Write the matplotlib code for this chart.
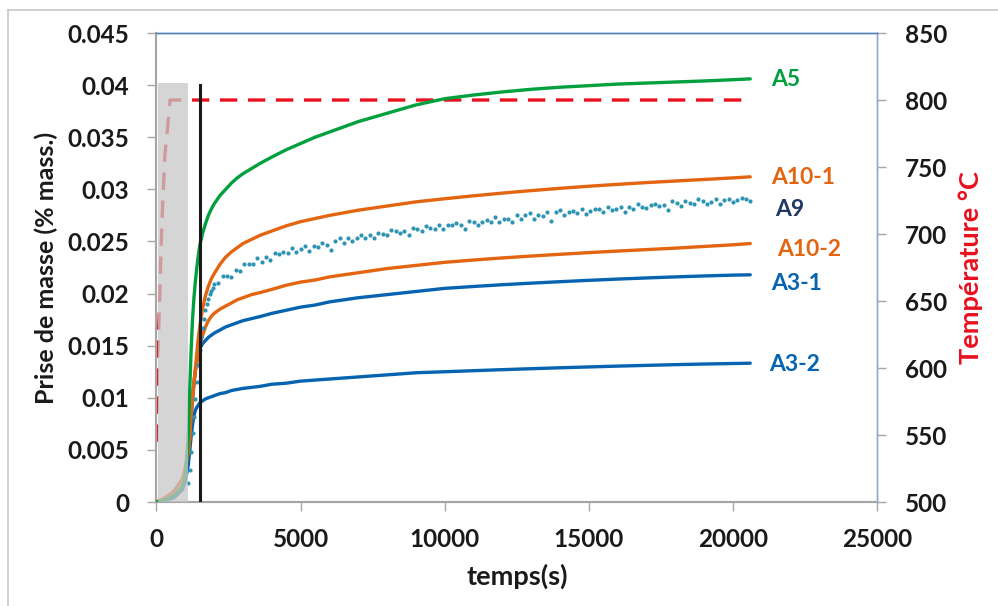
import matplotlib
matplotlib.use("Agg")
import matplotlib.pyplot as plt
from matplotlib.ticker import FuncFormatter, MultipleLocator
from matplotlib.lines import Line2D

plt.rcParams['font.family'] = ['Lato', 'DejaVu Sans']

# ---------------- data ----------------
t_curves = [0, 300, 600, 900, 1000, 1100, 1150, 1200, 1250, 1300, 1350, 1400, 1450, 1500,
            1600, 1700, 1800, 1900, 2000, 2200, 2400, 2600, 2800, 3000, 3300, 3600, 4000,
            4500, 5000, 5500, 6000, 7000, 8000, 9000, 10000, 11000, 12000, 13000, 14000,
            15000, 16000, 17000, 18000, 19000, 20000, 20600]
a5 = [0, 0.0002, 0.0006, 0.0014, 0.0025, 0.0062, 0.0105, 0.0145, 0.0175, 0.0196, 0.0212,
      0.0225, 0.0236, 0.0246, 0.0258, 0.0267, 0.0275, 0.0281, 0.0286, 0.0294, 0.0300,
      0.0306, 0.0311, 0.0315, 0.0320, 0.0325, 0.0331, 0.0338, 0.0344, 0.0350, 0.0355,
      0.0365, 0.0373, 0.0381, 0.0387, 0.03905, 0.03935, 0.0396, 0.0398, 0.03995, 0.0401,
      0.0402, 0.0403, 0.0404, 0.04052, 0.0406]
a10_1 = [0, 0.0004, 0.0010, 0.0022, 0.0033, 0.0048, 0.0060, 0.0085, 0.0100, 0.0115, 0.0129,
         0.0143, 0.0157, 0.0168, 0.0186, 0.0198, 0.0207, 0.0214, 0.0219, 0.0228, 0.0235,
         0.0240, 0.0244, 0.0248, 0.0252, 0.0256, 0.0260, 0.0265, 0.0269, 0.0272, 0.0275,
         0.0280, 0.0284, 0.0288, 0.0291, 0.02938, 0.02964, 0.02988, 0.0301, 0.0303,
         0.03048, 0.03065, 0.0308, 0.03095, 0.0311, 0.0312]
a10_2 = [0, 0.0004, 0.0010, 0.0022, 0.0033, 0.0048, 0.0060, 0.0085, 0.0100, 0.0115, 0.0126,
         0.0135, 0.0143, 0.0150, 0.0160, 0.0168, 0.0174, 0.0178, 0.0181, 0.0185, 0.0188,
         0.0191, 0.0194, 0.0196, 0.0199, 0.0201, 0.0204, 0.0208, 0.0211, 0.0213, 0.0216,
         0.0220, 0.0224, 0.0227, 0.0230, 0.02322, 0.02342, 0.0236, 0.02377, 0.02393,
         0.02408, 0.02422, 0.02436, 0.02452, 0.02468, 0.0248]
a3_1 = [0, 0.0002, 0.0005, 0.0015, 0.0025, 0.0042, 0.0060, 0.0080, 0.0098, 0.0113, 0.0126,
        0.0135, 0.0142, 0.0147, 0.0152, 0.0155, 0.0158, 0.0160, 0.0162, 0.0165, 0.0168,
        0.0170, 0.0172, 0.0174, 0.0176, 0.0178, 0.0181, 0.0184, 0.0187, 0.0189, 0.0192,
        0.0196, 0.0199, 0.0202, 0.0205, 0.02068, 0.02085, 0.0210, 0.02114, 0.02127,
        0.02139, 0.0215, 0.0216, 0.02169, 0.02177, 0.0218]
a3_2 = [0, 0.0002, 0.0004, 0.0012, 0.0020, 0.0035, 0.0048, 0.0062, 0.0074, 0.0083, 0.0088,
        0.0091, 0.0093, 0.0095, 0.0097, 0.0099, 0.0100, 0.0101, 0.0102, 0.0104, 0.0105,
        0.0107, 0.0108, 0.0109, 0.0110, 0.0111, 0.0113, 0.0114, 0.0116, 0.0117, 0.0118,
        0.0120, 0.0122, 0.0124, 0.0125, 0.0126, 0.0127, 0.01279, 0.01288, 0.01296,
        0.01304, 0.01311, 0.01318, 0.01324, 0.01329, 0.01332]

a9_t_early = [1100, 1150, 1200, 1250, 1300, 1350, 1400, 1450, 1500, 1550, 1600, 1650,
              1700, 1750, 1800, 1850, 1900, 1950]
a9_early = [0.0018, 0.0031, 0.0048, 0.0066, 0.0082, 0.0099, 0.0115, 0.0131, 0.0146, 0.0158,
            0.0167, 0.0176, 0.0184, 0.0190, 0.0195, 0.0200, 0.0202, 0.0205]
a9_t_late = list(range(2000, 20601, 150))
a9_late = [0.0209, 0.0210, 0.0217, 0.0217, 0.0216, 0.0223, 0.0222, 0.0228, 0.0228, 0.0228,
           0.0234, 0.0230, 0.0235, 0.0232, 0.0239, 0.0238, 0.0240, 0.0239, 0.0244, 0.0240,
           0.0243, 0.0246, 0.0241, 0.0246, 0.0245, 0.0249, 0.0247, 0.0242, 0.0250, 0.0253,
           0.0249, 0.0253, 0.0250, 0.0253, 0.0256, 0.0253, 0.0256, 0.0253, 0.0258, 0.0257,
           0.0256, 0.0261, 0.0260, 0.0258, 0.0260, 0.0256, 0.0263, 0.0262, 0.0260, 0.0265,
           0.0263, 0.0262, 0.0266, 0.0262, 0.0266, 0.0266, 0.0268, 0.0266, 0.0262, 0.0270,
           0.0269, 0.0266, 0.0269, 0.0271, 0.0269, 0.0273, 0.0269, 0.0272, 0.0272, 0.0269,
           0.0275, 0.0272, 0.0275, 0.0277, 0.0272, 0.0275, 0.0274, 0.0278, 0.0270, 0.0278,
           0.0280, 0.0275, 0.0278, 0.0279, 0.0277, 0.0281, 0.0276, 0.0279, 0.0281, 0.0281,
           0.0278, 0.0283, 0.0280, 0.0281, 0.0283, 0.0278, 0.0283, 0.0281, 0.0286, 0.0283,
           0.0282, 0.0285, 0.0286, 0.0284, 0.0285, 0.0280, 0.0289, 0.0287, 0.0284, 0.0289,
           0.0287, 0.0286, 0.0291, 0.0289, 0.0286, 0.0288, 0.0291, 0.0286, 0.0290, 0.0291,
           0.0288, 0.0290, 0.0292, 0.0291, 0.0289]

temp_t = [0, 30, 100, 150, 215, 295, 410, 470, 20300]
temp_c = [545, 604, 643, 683, 723, 760, 785, 800, 800]

grey_zone_t = [50, 1100]
grey_zone_top = 0.0402
marker_t = 1520
marker_top = 0.0400

labels = ['A5', 'A10-1', 'A9', 'A10-2', 'A3-1', 'A3-2']
label_y = [0.0405, 0.0311, 0.0281, 0.0242, 0.0210, 0.0132]
label_t = [21340, 21340, 21470, 21540, 21340, 21260]

# ---------------- style ----------------
GREEN = '#00a03e'
ORANGE = '#e3650f'
BLUE = '#0563b0'
TEAL = '#2d94b4'
NAVY = '#1f3864'
RED = '#e8101e'
TXT = '#1a1a1a'
label_colors = [GREEN, ORANGE, NAVY, ORANGE, BLUE, BLUE]

fig = plt.figure(figsize=(9.98, 6.06), dpi=100)
ax = fig.add_axes([0.1568, 0.1716, 0.7220, 0.7739])
ax2 = ax.twinx()

lw = 2.4
for ys, c in [(a3_2, BLUE), (a3_1, BLUE), (a10_2, ORANGE), (a10_1, ORANGE), (a5, GREEN)]:
    ax.plot(t_curves, ys, color=c, lw=lw, zorder=3, solid_joinstyle='round',
            solid_capstyle='round')
ax.plot(a9_t_early + a9_t_late, a9_early + a9_late, linestyle='none', marker='o',
        markersize=3.0, markeredgewidth=0, color=TEAL, zorder=3)

# grey zone (semi transparent, over everything before)
ax.fill_between(grey_zone_t, 0, grey_zone_top, color='#c8c8c8', alpha=0.75,
                linewidth=0, zorder=4)
ax.plot([marker_t, marker_t], [0, marker_top], color=TXT, lw=2.2, zorder=5)

ax.set_xlim(0, 25000)
ax.set_ylim(0, 0.045)
ax.xaxis.set_major_locator(MultipleLocator(5000))
ax.yaxis.set_major_locator(MultipleLocator(0.005))


def yfmt(v, pos):
    return f"{v:.3f}".rstrip('0').rstrip('.')


ax.yaxis.set_major_formatter(FuncFormatter(yfmt))

ax2.set_ylim(500, 850)
ax2.yaxis.set_major_locator(MultipleLocator(50))
ax2.plot(temp_t, temp_c, color=RED, lw=2.4, dashes=(5.2, 3.2), zorder=2)
ax.set_zorder(ax2.get_zorder() + 1)
ax.patch.set_visible(False)

TICK_FS = 17.5
for lab in ax.get_xticklabels() + ax.get_yticklabels() + ax2.get_yticklabels():
    lab.set_fontsize(TICK_FS)
    lab.set_fontweight('bold')
    lab.set_color(TXT)

ax.tick_params(axis='both', direction='out', length=6.5, width=1, color='#a6a6a6')
ax.tick_params(axis='y', pad=13)
ax.tick_params(axis='x', pad=12)
ax2.tick_params(axis='y', direction='out', length=6.5, width=1, color='#a6a6a6', pad=13.5)

for a in (ax, ax2):
    a.spines['left'].set_color('#a6a6a6')
    a.spines['bottom'].set_color('#a6a6a6')
    a.spines['left'].set_linewidth(1.5)
    a.spines['bottom'].set_linewidth(1.5)
    a.spines['top'].set_color('#4f81bd')
    a.spines['top'].set_linewidth(1.0)
    a.spines['right'].set_color('#8ea9cc')
    a.spines['right'].set_linewidth(1.0)

ax.set_xlabel('temps(s)', fontsize=19.5, fontweight='bold', color=TXT, labelpad=9)
ax.set_ylabel('Prise de masse (% mass.)', fontsize=18, fontweight='bold', color=TXT,
              labelpad=7)
ax2.set_ylabel('Température °C', fontsize=19.5, fontweight='bold', color=RED, labelpad=8)

for name, tx, ty, c in zip(labels, label_t, label_y, label_colors):
    ax.text(tx, ty, name, color=c, fontsize=16.5, fontweight='bold', va='center',
            ha='left', zorder=6)

# outer chart frame
fig.add_artist(Line2D([0.008, 1.0], [1 - 10 / 606, 1 - 10 / 606], color='#c8c8c8', lw=1.2,
                      transform=fig.transFigure))
fig.add_artist(Line2D([8 / 998, 8 / 998], [0.0, 1 - 10 / 606], color='#c8c8c8', lw=1.2,
                      transform=fig.transFigure))

fig.savefig('out.png', dpi=100)
